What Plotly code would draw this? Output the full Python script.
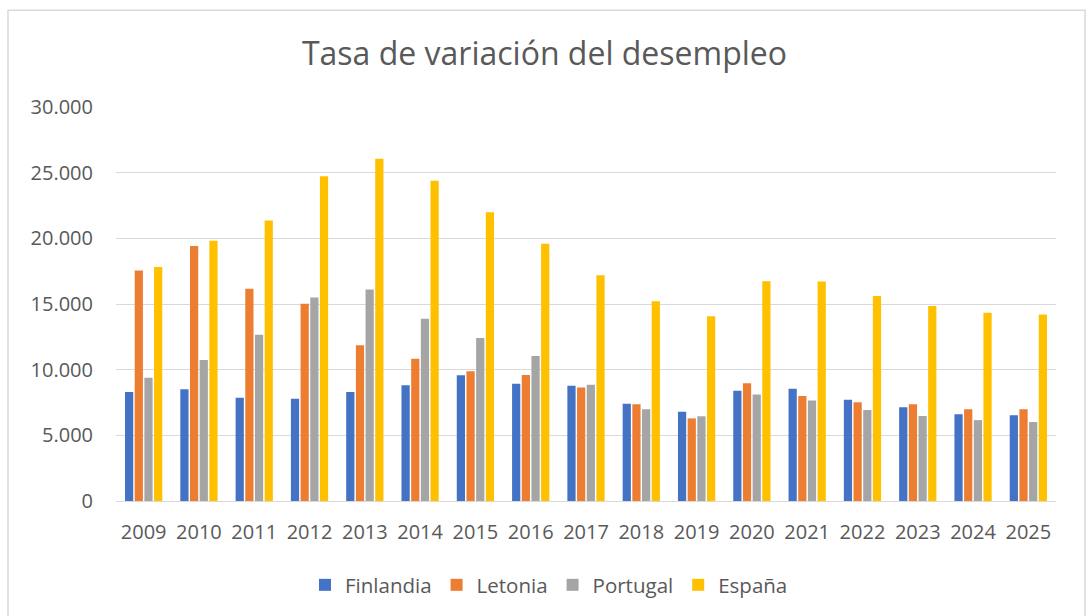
import plotly.graph_objects as go

years = [str(y) for y in range(2009, 2026)]
finlandia = [8300, 8500, 7870, 7790, 8300, 8810, 9570, 8930, 8780, 7410, 6800, 8400, 8550, 7710, 7130, 6600, 6520]
letonia = [17560, 19410, 16160, 15020, 11850, 10830, 9870, 9590, 8650, 7360, 6290, 8960, 7990, 7510, 7360, 6980, 6980]
portugal = [9390, 10730, 12660, 15500, 16110, 13880, 12410, 11040, 8860, 6980, 6450, 8100, 7660, 6930, 6470, 6160, 6010]
espana = [17810, 19820, 21360, 24730, 26060, 24380, 21990, 19590, 17180, 15200, 14060, 16740, 16720, 15600, 14840, 14330, 14210]

series = [
    ("Finlandia", finlandia, "#4472C4"),
    ("Letonia", letonia, "#ED7D31"),
    ("Portugal", portugal, "#A5A5A5"),
    ("España", espana, "#FFC000"),
]

fig = go.Figure()
for name, vals, col in series:
    fig.add_trace(go.Bar(x=years, y=vals, name=name, marker=dict(color=col, line=dict(width=0))))

W, H = 1089, 616
ml, mr, mt, mb = 116, 33, 107, 114
pw, ph = W - ml - mr, H - mt - mb

def px(x):
    return (x - ml) / pw

def py(y):
    return (H - mb - y) / ph

fig.update_layout(
    width=W, height=H,
    margin=dict(l=ml, r=mr, t=mt, b=mb),
    paper_bgcolor="white", plot_bgcolor="white",
    separators=",.",
    font=dict(family="Open Sans", color="#595959", size=20),
    title=dict(text="Tasa de variación del desempleo", x=0.5, xanchor="center",
               y=1 - 54 / H, yanchor="middle", font=dict(size=32, color="#595959")),
    barmode="group", bargap=0.3, bargroupgap=0.15,
    showlegend=True,
    legend=dict(orientation="h", x=0.5 - 37 / pw, xanchor="center", y=py(585), yanchor="middle",
                font=dict(size=20.5, color="#595959"), itemwidth=30, traceorder="normal"),
    xaxis=dict(showgrid=False, showline=False, ticks="", ticklabelstandoff=17,
               tickfont=dict(size=20, color="#595959")),
    yaxis=dict(range=[0, 30000], dtick=5000, tickformat=",d", showgrid=True,
               gridcolor="#D9D9D9", gridwidth=1.3, zeroline=True, zerolinecolor="#D9D9D9",
               zerolinewidth=1.3, showline=False, ticks="", ticklabelstandoff=22,
               tickfont=dict(size=20, color="#595959")),
    shapes=[dict(type="rect", xref="paper", yref="paper",
                 x0=px(8), x1=px(1085), y0=py(630), y1=py(10),
                 line=dict(color="#D9D9D9", width=1.5), fillcolor="rgba(0,0,0,0)", layer="below")],
)

fig.write_html("out.html", config={"displayModeBar": False},
               post_script="document.body.style.margin='0';document.body.style.padding='0';")
